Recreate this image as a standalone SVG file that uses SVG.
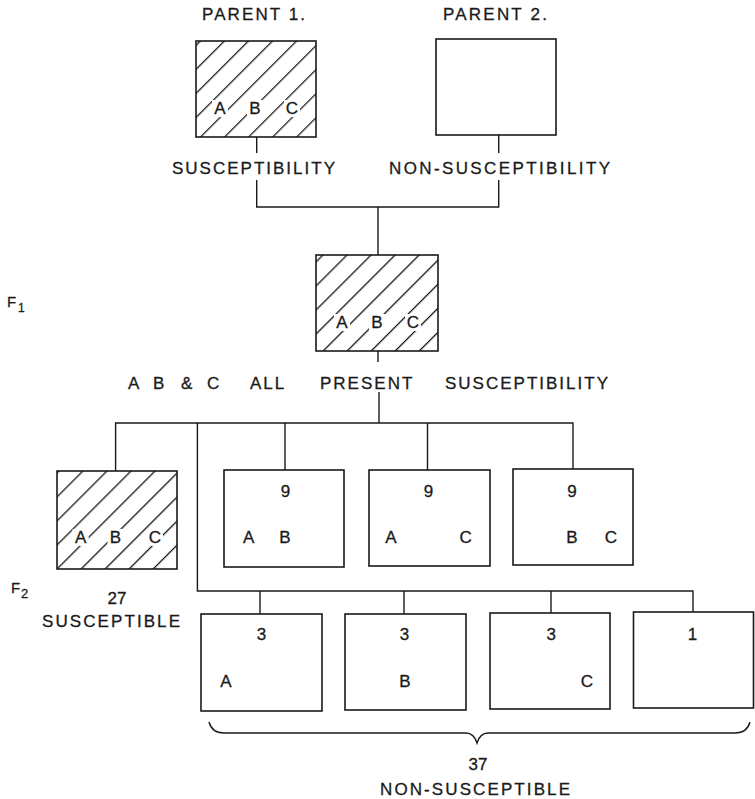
<svg xmlns="http://www.w3.org/2000/svg" width="755" height="799" viewBox="0 0 755 799">
<style>
  .bg{fill:#fff}
  .box{fill:#fff;stroke:#1a1a1a;stroke-width:1.6}
  .hbox{fill:url(#hatch);stroke:#1a1a1a;stroke-width:1.6}
  .con{fill:none;stroke:#1a1a1a;stroke-width:1.4}
  .gap{fill:#fff}
  .t{font-family:"Liberation Sans",Arial,sans-serif;font-size:17px;fill:#1a1a1a;stroke:#1a1a1a;stroke-width:0.3}
  .c{text-anchor:middle}
  .n{font-family:"Liberation Sans",Arial,sans-serif;font-size:17px;fill:#1a1a1a;stroke:#1a1a1a;stroke-width:0.3;text-anchor:middle}
  .ls{letter-spacing:2px}
</style>
<defs>
  <pattern id="hatch" patternUnits="userSpaceOnUse" width="17" height="17" patternTransform="rotate(45)">
    <rect width="17" height="17" fill="#fff"/>
    <line x1="0" y1="0" x2="0" y2="17" stroke="#1a1a1a" stroke-width="2.6"/>
  </pattern>
</defs>
<rect class="bg" width="755" height="799"/>

<g id="connectors">
  <path class="con" d="M256.7,137 V153 M256.7,180 V207 H498.7 V180 M498.7,135 V153"/>
  <path class="con" d="M378,207 V255"/>
  <path class="con" d="M378,351 V362 M379,392 V423"/>
  <path class="con" d="M115.6,471 V423 H573 V469"/>
  <path class="con" d="M285,423 V470 M427.5,423 V470"/>
  <path class="con" d="M197.4,423 V591 H693 V612"/>
  <path class="con" d="M260,591 V614 M404,591 V614 M551,591 V613"/>
</g>

<g id="labels">
  <text class="t" x="202" y="20" textLength="103" lengthAdjust="spacing">PARENT 1.</text>
  <text class="t" x="443" y="20" textLength="104" lengthAdjust="spacing">PARENT 2.</text>
  <text class="t" x="172" y="174" textLength="163" lengthAdjust="spacing">SUSCEPTIBILITY</text>
  <text class="t" x="389" y="174" textLength="221" lengthAdjust="spacing">NON-SUSCEPTIBILITY</text>
  <text class="t" y="389"><tspan x="128">A</tspan><tspan x="153">B</tspan><tspan x="181">&amp;</tspan><tspan x="207">C</tspan><tspan x="250" class="ls">ALL</tspan><tspan x="320" class="ls">PRESENT</tspan><tspan x="445" class="ls">SUSCEPTIBILITY</tspan></text>
  <text class="t" x="7" y="307" style="font-size:15px">F<tspan x="18" y="312" style="font-size:12px">1</tspan></text>
  <text class="t" x="11" y="593" style="font-size:15px">F<tspan x="21" y="598" style="font-size:13px">2</tspan></text>
  <text class="t c" x="117" y="604">27</text>
  <text class="t" x="42" y="627" textLength="138" lengthAdjust="spacing">SUSCEPTIBLE</text>
  <path class="con" d="M209,722 Q212,733 224,733 L466,733 Q474,733 477,743 Q480,733 488,733 L735,733 Q747,733 750,722"/>
  <text class="t c" x="478" y="770">37</text>
  <text class="t" x="380" y="795" textLength="190" lengthAdjust="spacing">NON-SUSCEPTIBLE</text>
</g>

<g id="parent1">
  <rect class="hbox" x="196" y="41" width="120" height="96"/>
  <rect class="gap" x="212" y="100" width="16" height="17"/>
  <rect class="gap" x="247" y="100" width="16" height="17"/>
  <rect class="gap" x="284" y="100" width="16" height="17"/>
  <text class="n" x="220" y="114">A</text>
  <text class="n" x="255" y="114">B</text>
  <text class="n" x="292" y="114">C</text>
</g>
<g id="parent2">
  <rect class="box" x="436" y="39" width="120" height="96"/>
</g>
<g id="f1">
  <rect class="hbox" x="316" y="255" width="122" height="96"/>
  <rect class="gap" x="334" y="314" width="16" height="17"/>
  <rect class="gap" x="369" y="314" width="16" height="17"/>
  <rect class="gap" x="405" y="314" width="16" height="17"/>
  <text class="n" x="342" y="328">A</text>
  <text class="n" x="377" y="328">B</text>
  <text class="n" x="413" y="328">C</text>
</g>
<g id="f2-abc">
  <rect class="hbox" x="57" y="471" width="120" height="98"/>
  <rect class="gap" x="72.6" y="529" width="16" height="17"/>
  <rect class="gap" x="107.5" y="529" width="16" height="17"/>
  <rect class="gap" x="147" y="529" width="16" height="17"/>
  <text class="n" x="80.6" y="543">A</text>
  <text class="n" x="115.5" y="543">B</text>
  <text class="n" x="155" y="543">C</text>
</g>
<g id="f2-ab">
  <rect class="box" x="224" y="470" width="120" height="97"/>
  <text class="n" x="285.5" y="497">9</text>
  <text class="n" x="248.6" y="543">A</text>
  <text class="n" x="285" y="543">B</text>
</g>
<g id="f2-ac">
  <rect class="box" x="369" y="470" width="121" height="96"/>
  <text class="n" x="428.5" y="497">9</text>
  <text class="n" x="391" y="543">A</text>
  <text class="n" x="465.7" y="543">C</text>
</g>
<g id="f2-bc">
  <rect class="box" x="513" y="469" width="120" height="96"/>
  <text class="n" x="572" y="497">9</text>
  <text class="n" x="572" y="543">B</text>
  <text class="n" x="611" y="543">C</text>
</g>
<g id="f2-a">
  <rect class="box" x="201" y="614" width="121" height="97"/>
  <text class="n" x="261.5" y="640">3</text>
  <text class="n" x="226" y="687">A</text>
</g>
<g id="f2-b">
  <rect class="box" x="345" y="614" width="121" height="96"/>
  <text class="n" x="404.5" y="640">3</text>
  <text class="n" x="405" y="687">B</text>
</g>
<g id="f2-c">
  <rect class="box" x="490" y="613" width="120" height="96"/>
  <text class="n" x="551.3" y="640">3</text>
  <text class="n" x="587" y="687">C</text>
</g>
<g id="f2-none">
  <rect class="box" x="633.5" y="612" width="120" height="96"/>
  <text class="n" x="692.6" y="640">1</text>
</g>
</svg>
